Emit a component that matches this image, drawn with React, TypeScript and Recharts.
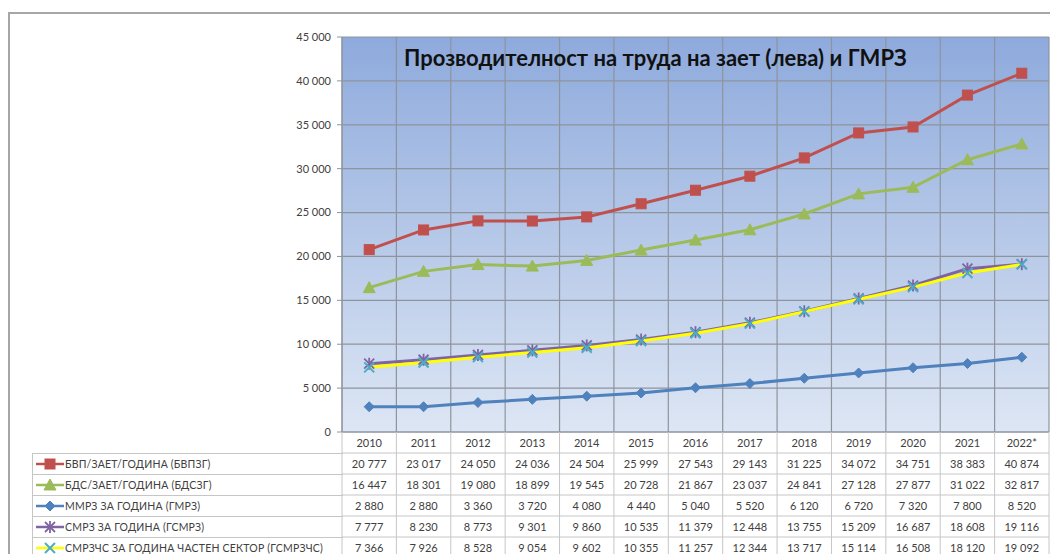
import React from 'react';
import { LineChart, Line, XAxis, YAxis, CartesianGrid } from 'recharts';

const years = ['2010', '2011', '2012', '2013', '2014', '2015', '2016', '2017', '2018', '2019', '2020', '2021', '2022*'];
const bvpzg = [20777, 23017, 24050, 24036, 24504, 25999, 27543, 29143, 31225, 34072, 34751, 38383, 40874];
const bdszg = [16447, 18301, 19080, 18899, 19545, 20728, 21867, 23037, 24841, 27128, 27877, 31022, 32817];
const gmrz = [2880, 2880, 3360, 3720, 4080, 4440, 5040, 5520, 6120, 6720, 7320, 7800, 8520];
const gsmrz = [7777, 8230, 8773, 9301, 9860, 10535, 11379, 12448, 13755, 15209, 16687, 18608, 19116];
const gsmrzchs = [7366, 7926, 8528, 9054, 9602, 10355, 11257, 12344, 13717, 15114, 16508, 18120, 19092];
const yTicks = [0, 5000, 10000, 15000, 20000, 25000, 30000, 35000, 40000, 45000];

const title = 'Прозводителност на труда на зает (лева) и ГМРЗ';

const series = [
  { key: 'bvpzg', name: 'БВП/ЗАЕТ/ГОДИНА (БВПЗГ)', values: bvpzg, color: '#c0504d', marker: 'square', markerColor: '#c0504d' },
  { key: 'bdszg', name: 'БДС/ЗАЕТ/ГОДИНА (БДСЗГ)', values: bdszg, color: '#9bbb59', marker: 'triangle', markerColor: '#9bbb59' },
  { key: 'gmrz', name: 'ММРЗ ЗА ГОДИНА (ГМРЗ)', values: gmrz, color: '#4f81bd', marker: 'diamond', markerColor: '#4f81bd' },
  { key: 'gsmrz', name: 'СМРЗ ЗА ГОДИНА (ГСМРЗ)', values: gsmrz, color: '#8064a2', marker: 'star', markerColor: '#8064a2' },
  { key: 'gsmrzchs', name: 'СМРЗЧС ЗА ГОДИНА ЧАСТЕН СЕКТОР (ГСМРЗЧС)', values: gsmrzchs, color: '#ffff00', marker: 'x', markerColor: '#4bacc6' },
];

const data = years.map((year, i) => {
  const row: Record<string, string | number> = { year };
  series.forEach((s) => {
    row[s.key] = s.values[i];
  });
  return row;
});

const FONT = 'Lato, "Open Sans", sans-serif';
const CHART_W = 1050;
const CHART_H = 546;
const PLOT_TOP = 29;
const PLOT_BOTTOM = 424;
const PLOT_LEFT = 334;
const PLOT_RIGHT = 1041;
const CELL_W = (PLOT_RIGHT - PLOT_LEFT) / years.length;
const ROW_H = 21;
const TABLE_LINE = '#c6c6c6';
const GRID = '#8e949c';

const fmt = (n: number) => String(n).replace(/\B(?=(\d{3})+(?!\d))/g, ' ');

function marker(type: string, cx: number, cy: number, color: string, k?: string | number) {
  switch (type) {
    case 'square':
      return <rect key={k} x={cx - 5} y={cy - 5} width={10} height={10} fill={color} stroke={color} />;
    case 'triangle':
      return <polygon key={k} points={`${cx},${cy - 6} ${cx + 6},${cy + 5} ${cx - 6},${cy + 5}`} fill={color} stroke={color} />;
    case 'diamond':
      return <polygon key={k} points={`${cx},${cy - 5} ${cx + 5},${cy} ${cx},${cy + 5} ${cx - 5},${cy}`} fill={color} stroke={color} />;
    case 'star':
      return (
        <g key={k} stroke={color} strokeWidth={1.8}>
          <line x1={cx - 5} y1={cy - 5} x2={cx + 5} y2={cy + 5} />
          <line x1={cx - 5} y1={cy + 5} x2={cx + 5} y2={cy - 5} />
          <line x1={cx} y1={cy - 6} x2={cx} y2={cy + 6} />
        </g>
      );
    default:
      return (
        <g key={k} stroke={color} strokeWidth={2}>
          <line x1={cx - 5} y1={cy - 5} x2={cx + 5} y2={cy + 5} />
          <line x1={cx - 5} y1={cy + 5} x2={cx + 5} y2={cy - 5} />
        </g>
      );
  }
}

// one column of the data table, hung under each category tick
function TableColumn(props: any) {
  const { x, y, index } = props;
  const left = x - CELL_W / 2;
  const right = x + CELL_W / 2;
  const rows = series.length + 1;
  const last = index === years.length - 1;
  return (
    <g>
      <line x1={left} x2={left} y1={y} y2={y + ROW_H * rows + 10} stroke={TABLE_LINE} />
      {last && <line x1={right} x2={right} y1={y} y2={y + ROW_H * rows + 10} stroke={TABLE_LINE} />}
      {series.map((_, k) => (
        <line key={k} x1={left} x2={right} y1={y + ROW_H * (k + 1)} y2={y + ROW_H * (k + 1)} stroke={TABLE_LINE} />
      ))}
      <text x={x} y={y + ROW_H / 2 + 4} textAnchor="middle" fontSize={11} fill="#404040" fontFamily={FONT}>
        {years[index]}
      </text>
      {series.map((s, k) => (
        <text key={s.key} x={x} y={y + ROW_H * (k + 1) + ROW_H / 2 + 4} textAnchor="middle" fontSize={11} fill="#404040" fontFamily={FONT}>
          {fmt(s.values[index])}
        </text>
      ))}
    </g>
  );
}

function LegendColumn() {
  return (
    <div
      style={{
        position: 'absolute',
        left: 24,
        top: PLOT_BOTTOM + ROW_H,
        width: PLOT_LEFT - 24,
        borderTop: `1px solid ${TABLE_LINE}`,
        borderLeft: `1px solid ${TABLE_LINE}`,
        fontFamily: FONT,
        fontSize: 10.5,
        color: '#404040',
      }}
    >
      {series.map((s) => (
        <div
          key={s.key}
          style={{ height: ROW_H - 1, borderBottom: `1px solid ${TABLE_LINE}`, display: 'flex', alignItems: 'center' }}
        >
          <svg width={30} height={14} style={{ marginLeft: 2, flex: 'none' }}>
            <line x1={1} x2={29} y1={7} y2={7} stroke={s.color} strokeWidth={2.5} />
            {marker(s.marker, 15, 7, s.markerColor)}
          </svg>
          <span style={{ whiteSpace: 'nowrap', letterSpacing: 0.2 }}>{s.name}</span>
        </div>
      ))}
    </div>
  );
}

export default function App() {
  return (
    <div style={{ position: 'relative', width: CHART_W, height: CHART_H, overflow: 'hidden', background: '#fff' }}>
      <div
        style={{
          position: 'absolute',
          left: 0,
          top: 4,
          width: CHART_W + 20,
          height: CHART_H,
          borderLeft: '2px solid #a6a6a6',
          borderTop: '2px solid #a6a6a6',
        }}
      />
      <LineChart
        width={CHART_W}
        height={CHART_H}
        data={data}
        margin={{ top: PLOT_TOP, right: CHART_W - PLOT_RIGHT, bottom: 0, left: 0 }}
        style={{ position: 'absolute', left: 0, top: 0 }}
      >
        <defs>
          <linearGradient id="plotBg" x1="0" y1="0" x2="0" y2="1">
            <stop offset="0%" stopColor="#8eaadc" />
            <stop offset="100%" stopColor="#dde6f4" />
          </linearGradient>
        </defs>
        <CartesianGrid
          fill="url(#plotBg)"
          stroke={GRID}
          strokeWidth={1.2}
          verticalCoordinatesGenerator={({ offset }: any) =>
            years.map((_, i) => offset.left + (i * offset.width) / years.length).concat([offset.left + offset.width])
          }
        />
        <XAxis
          dataKey="year"
          height={CHART_H - PLOT_BOTTOM}
          padding={{ left: CELL_W / 2, right: CELL_W / 2 }}
          axisLine={{ stroke: GRID }}
          tickLine={false}
          tickSize={0}
          tickMargin={0}
          interval={0}
          tick={<TableColumn />}
        />
        <YAxis
          width={PLOT_LEFT}
          domain={[0, 45000]}
          ticks={yTicks}
          interval={0}
          tickSize={5}
          tickMargin={6}
          axisLine={{ stroke: GRID }}
          tickLine={{ stroke: GRID }}
          tickFormatter={fmt}
          tick={{ fontSize: 11, fill: '#404040', fontFamily: FONT }}
        />
        {series.map((s) => (
          <Line
            key={s.key}
            type="linear"
            dataKey={s.key}
            stroke={s.color}
            strokeWidth={3}
            isAnimationActive={false}
            dot={(p: any) => marker(s.marker, p.cx, p.cy, s.markerColor, `${s.key}-${p.index}`)}
            activeDot={false}
          />
        ))}
      </LineChart>
      <div
        style={{
          position: 'absolute',
          left: 396,
          top: 36,
          fontFamily: FONT,
          fontWeight: 700,
          fontSize: 22,
          lineHeight: '28px',
          color: '#111',
          whiteSpace: 'nowrap',
        }}
      >
        {title}
      </div>
      <LegendColumn />
    </div>
  );
}
